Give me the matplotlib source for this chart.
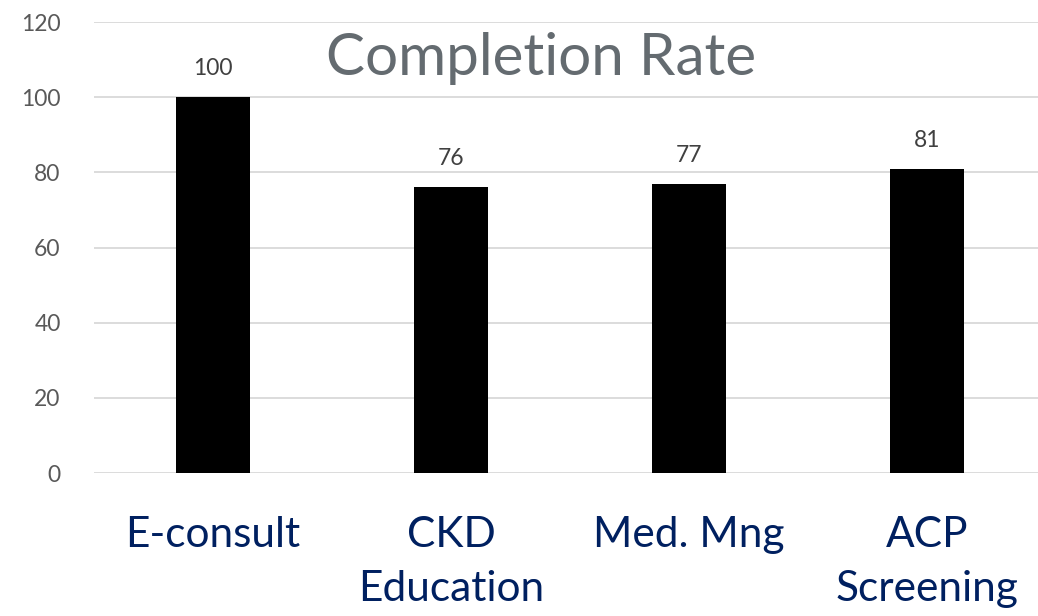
import matplotlib
matplotlib.use("Agg")
import matplotlib.pyplot as plt

categories = ["E-consult", "CKD\nEducation", "Med. Mng", "ACP\nScreening"]
completion = [100, 76, 77, 81]
yticks = [0, 20, 40, 60, 80, 100, 120]

plt.rcParams['font.family'] = ['Lato', 'DejaVu Sans']

fig = plt.figure(figsize=(10.38, 6.16), dpi=100)
ax = fig.add_axes([94 / 1038, 143 / 616, 952 / 1038, 451 / 616])

x = range(len(categories))
bars = ax.bar(x, completion, width=0.315, color="black", zorder=3)

for rect, v in zip(bars, completion):
    ax.annotate(str(v), (rect.get_x() + rect.get_width() / 2, v),
                xytext=(0, 13), textcoords="offset points",
                ha="center", va="bottom", fontsize=16.5, color="#404040")

ax.set_xlim(-0.5, 3.5)
ax.set_ylim(0, 120)
ax.set_yticks(yticks)
ax.set_xticks(list(x))
ax.set_xticklabels(categories, fontsize=30.5, color="#002060", linespacing=1.5)
ax.tick_params(axis="x", length=0, pad=31)
ax.tick_params(axis="y", length=0, pad=24, labelsize=16.5, labelcolor="#595959")

ax.grid(axis="y", color="#d9d9d9", linewidth=1.3, zorder=0)
for s in ax.spines.values():
    s.set_visible(False)

ax.text(0.4695, 0.92, "Completion Rate", transform=ax.transAxes,
        ha="center", va="center", fontsize=42, color="#646b70", zorder=4)

fig.savefig("out.png", dpi=100)
